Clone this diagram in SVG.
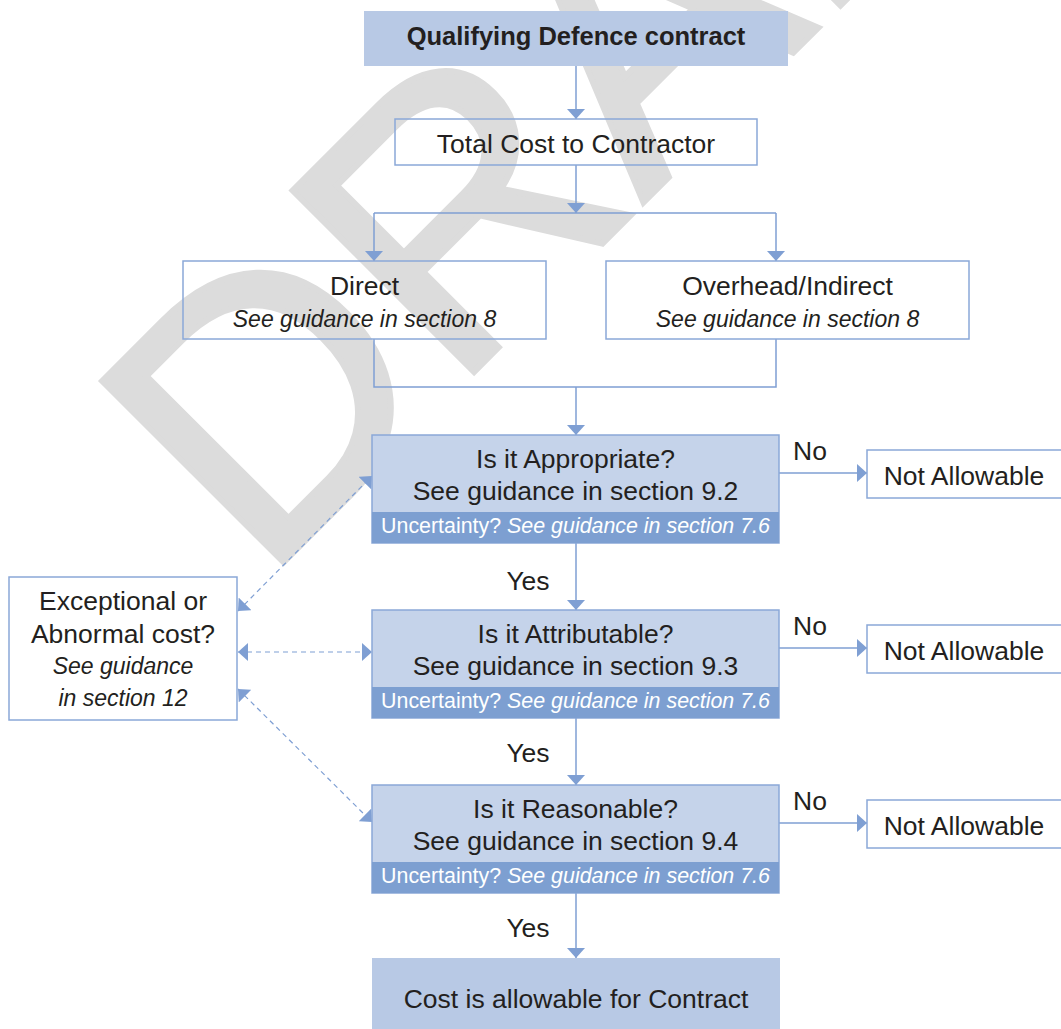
<svg xmlns="http://www.w3.org/2000/svg" width="1061" height="1029" viewBox="0 0 1061 1029">
<defs>
<style>
.t{font-family:"Liberation Sans",Arial,Helvetica,sans-serif;fill:#231f20;font-size:26.5px;text-anchor:middle}
.i{font-style:italic;font-size:23px}
.b{font-weight:bold;font-size:25.5px}
.u{fill:#ffffff;font-size:21.4px}
.wbox{fill:none;stroke:#8aa8d8;stroke-width:1.5}
.dbox{fill:#c5d3ea;stroke:#8aa8d8;stroke-width:1.5}
.band{fill:#7d9fd1}
.fbox{fill:#b8c9e5}
.con{fill:none;stroke:#7f9fd3;stroke-width:1.5}
.dash{stroke-dasharray:5 4;stroke-width:1.2}
.wm{font-family:"Liberation Sans",Arial,sans-serif;font-size:373px;fill:#dcdcdc;stroke:#dcdcdc;stroke-width:6;stroke-linejoin:miter}
</style>
<marker id="ah" viewBox="0 0 10 18" refX="10" refY="9" markerWidth="10" markerHeight="18" markerUnits="userSpaceOnUse" orient="auto-start-reverse">
<path d="M0,0 L10,9 L0,18 z" fill="#7f9fd3"/>
</marker>
</defs>
<rect width="1061" height="1029" fill="#ffffff"/>
<g id="watermark">
<text class="wm" transform="translate(262,584) rotate(-45)">DRAFT</text>
</g>
<g id="connectors">
<path class="con" d="M576,66 V119" marker-end="url(#ah)"/>
<path class="con" d="M576,165 V213" marker-end="url(#ah)"/>
<path class="con" d="M374,213 H776"/>
<path class="con" d="M374,213 V261" marker-end="url(#ah)"/>
<path class="con" d="M776,213 V261" marker-end="url(#ah)"/>
<path class="con" d="M374,339 V387 H776 V339"/>
<path class="con" d="M576,387 V435" marker-end="url(#ah)"/>
<path class="con" d="M779,473 H867" marker-end="url(#ah)"/>
<path class="con" d="M779,648 H867" marker-end="url(#ah)"/>
<path class="con" d="M779,823 H867" marker-end="url(#ah)"/>
<path class="con" d="M576,543 V610" marker-end="url(#ah)"/>
<path class="con" d="M576,718 V785" marker-end="url(#ah)"/>
<path class="con" d="M576,893 V958" marker-end="url(#ah)"/>
<path class="con dash" d="M238,611 L372,476" marker-start="url(#ah)" marker-end="url(#ah)"/>
<path class="con dash" d="M238,652 H372" marker-start="url(#ah)" marker-end="url(#ah)"/>
<path class="con dash" d="M238,689 L372,822" marker-start="url(#ah)" marker-end="url(#ah)"/>
</g>
<g id="labels">
<text class="t" x="810" y="460">No</text>
<text class="t" x="810" y="635">No</text>
<text class="t" x="810" y="810">No</text>
<text class="t" x="528" y="590">Yes</text>
<text class="t" x="528" y="762">Yes</text>
<text class="t" x="528" y="937">Yes</text>
</g>
<g id="n-qualifying">
<rect class="fbox" x="364" y="11" width="424" height="55"/>
<text class="t b" x="576" y="45">Qualifying Defence contract</text>
</g>
<g id="n-total">
<rect class="wbox" x="395" y="119" width="362" height="46"/>
<text class="t" x="576" y="153">Total Cost to Contractor</text>
</g>
<g id="n-direct">
<rect class="wbox" x="183" y="261" width="363" height="78"/>
<text class="t" x="364.5" y="295">Direct</text>
<text class="t i" x="364.5" y="327">See guidance in section 8</text>
</g>
<g id="n-overhead">
<rect class="wbox" x="606" y="261" width="363" height="78"/>
<text class="t" x="787.5" y="295">Overhead/Indirect</text>
<text class="t i" x="787.5" y="327">See guidance in section 8</text>
</g>
<g id="n-appropriate">
<rect class="dbox" x="372" y="435" width="407" height="108"/>
<rect class="band" x="372" y="512" width="407" height="31"/>
<text class="t" x="575.5" y="468">Is it Appropriate?</text>
<text class="t" x="575.5" y="500">See guidance in section 9.2</text>
<text class="t u" x="575.5" y="533">Uncertainty? <tspan font-style="italic">See guidance in section 7.6</tspan></text>
</g>
<g id="n-attributable">
<rect class="dbox" x="372" y="610" width="407" height="108"/>
<rect class="band" x="372" y="687" width="407" height="31"/>
<text class="t" x="575.5" y="643">Is it Attributable?</text>
<text class="t" x="575.5" y="675">See guidance in section 9.3</text>
<text class="t u" x="575.5" y="708">Uncertainty? <tspan font-style="italic">See guidance in section 7.6</tspan></text>
</g>
<g id="n-reasonable">
<rect class="dbox" x="372" y="785" width="407" height="108"/>
<rect class="band" x="372" y="862" width="407" height="31"/>
<text class="t" x="575.5" y="818">Is it Reasonable?</text>
<text class="t" x="575.5" y="850">See guidance in section 9.4</text>
<text class="t u" x="575.5" y="883">Uncertainty? <tspan font-style="italic">See guidance in section 7.6</tspan></text>
</g>
<g id="n-notallowable-1">
<rect class="wbox" x="867" y="450" width="196" height="48"/>
<text class="t" x="964" y="485">Not Allowable</text>
</g>
<g id="n-notallowable-2">
<rect class="wbox" x="867" y="625" width="196" height="48"/>
<text class="t" x="964" y="660">Not Allowable</text>
</g>
<g id="n-notallowable-3">
<rect class="wbox" x="867" y="800" width="196" height="48"/>
<text class="t" x="964" y="835">Not Allowable</text>
</g>
<g id="n-exceptional">
<rect class="wbox" x="9" y="577" width="228" height="143"/>
<text class="t" x="123" y="610">Exceptional or</text>
<text class="t" x="123" y="643">Abnormal cost?</text>
<text class="t i" x="123" y="674">See guidance</text>
<text class="t i" x="123" y="706">in section 12</text>
</g>
<g id="n-allowable">
<rect class="fbox" x="372" y="958" width="408" height="72"/>
<text class="t" x="576" y="1008">Cost is allowable for Contract</text>
</g>
</svg>
